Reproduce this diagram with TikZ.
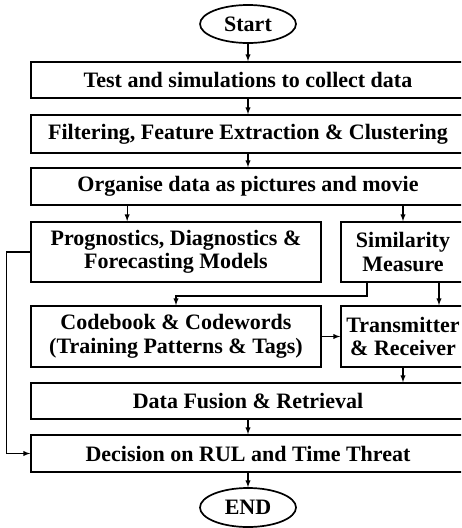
\documentclass[tikz,border=0pt]{standalone}
\usepackage{fontspec}
\setmainfont{Liberation Serif}
\usetikzlibrary{positioning}
\usetikzlibrary{shapes.geometric}
\usetikzlibrary{arrows}
\usetikzlibrary{calc}

\begin{document}
\begin{tikzpicture}
[x=1pt,y=-1pt,
 block/.style={shape=rectangle,draw,line width=1.7pt,align=center,inner sep=0pt,
   font=\fontsize{22}{23.5}\selectfont\bfseries},
 wide/.style={block,minimum width=434pt},
 terminal/.style={shape=ellipse,draw,line width=1.7pt,inner sep=0pt,
   minimum width=96pt,minimum height=38pt,font=\fontsize{22}{23.5}\selectfont\bfseries},
 arr/.style={-latex,line width=1.3pt}]

\clip (0,0) rectangle (461,528);

\draw (248,24) node (start) [terminal] {Start};
\draw (248,80) node (test) [wide,minimum height=36pt] {Test and simulations to collect data};
\draw (248,134) node (filter) [wide,minimum height=38pt] {Filtering, Feature Extraction \& Clustering};
\draw (248,186.5) node (organise) [wide,minimum height=37pt] {Organise data as pictures and movie};

\draw (176,252) node (prog) [block,minimum width=290pt,minimum height=60pt]
	{Prognostics, Diagnostics \&\\Forecasting Models};
\draw (403,252) node (sim) [block,minimum width=124pt,minimum height=60pt]
	{Similarity\\Measure};
\draw (176,336.5) node (code) [block,minimum width=290pt,minimum height=61pt]
	{Codebook \& Codewords\\(Training Patterns \& Tags)};
\draw (403,336.5) node (trans) [block,minimum width=124pt,minimum height=61pt]
	{Transmitter\\\& Receiver};

\draw (248,401) node (fusion) [wide,minimum height=36pt] {Data Fusion \& Retrieval};
\draw (248,453.5) node (decision) [wide,minimum height=37pt] {Decision on RUL and Time Threat};
\draw (248,507.5) node (end) [terminal,minimum height=39pt] {END};

\draw [arr] (start) -- (test);
\draw [arr] (test) -- (filter);
\draw [arr] (filter) -- (organise);
\draw [arr] ($(organise.south -| prog.north west)+(97,0)$) -- ($(prog.north west)+(97,0)$);
\draw [arr] (organise.south -| sim.north) -- (sim.north);
\draw [arr] ($(sim.south)+(36,0)$) -- ($(trans.north)+(36,0)$);
\draw [arr] ($(sim.south)+(-36,0)$) -- ++(0,13) -| (code.north);
\draw [arr] (code) -- (trans);
\draw [arr] (trans.south) -- (fusion.north -| trans.south);
\draw [arr] (fusion) -- (decision);
\draw [arr] (decision) -- (end);
\draw [arr] (prog.west) -- ++(-24,0) |- (decision.west);
\end{tikzpicture}
\end{document}
